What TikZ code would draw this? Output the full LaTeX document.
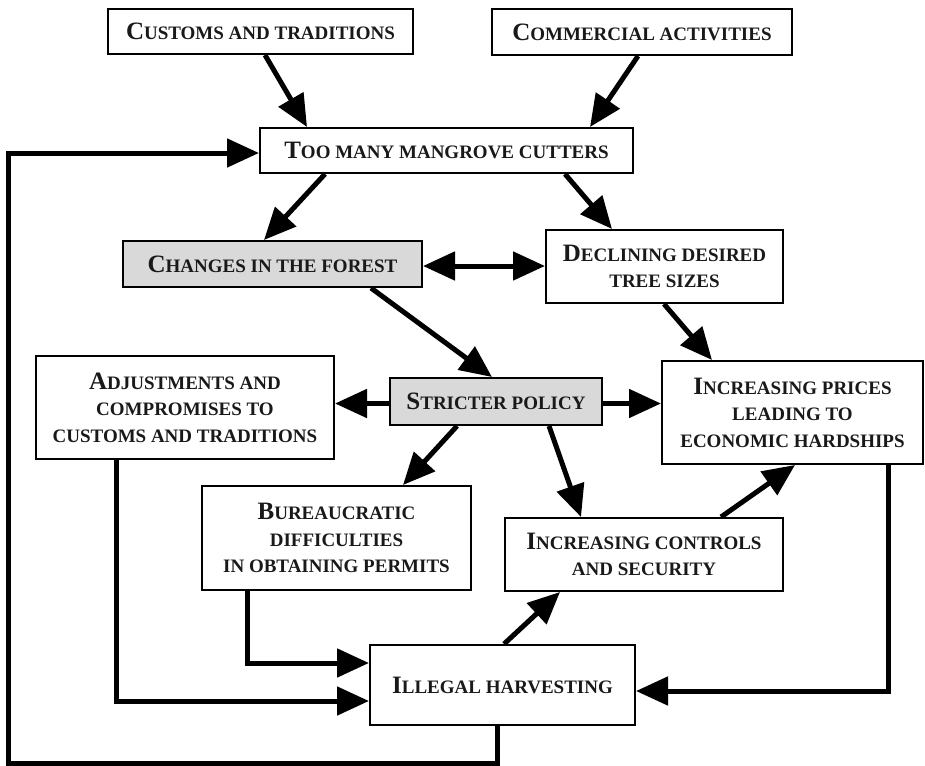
\documentclass[tikz,border=0pt]{standalone}
\usepackage{fontspec}
\setmainfont{Liberation Serif}
\usetikzlibrary{arrows.meta}
\newcommand\bigc[1]{{\fontsize{25}{26}\selectfont #1}}
\begin{document}
\begin{tikzpicture}[x=1pt,y=-1pt,
  box/.style={draw, line width=2pt, fill=white, inner sep=0pt, align=center,
    font=\fontsize{19}{26.5}\selectfont\bfseries, text=black!90},
  graybox/.style={box, fill=black!15},
  conn/.style={line width=5pt, -{Triangle[length=32pt,width=28pt]}},
  dconn/.style={line width=5pt, {Triangle[length=32pt,width=28pt]}-{Triangle[length=32pt,width=28pt]}}]
\useasboundingbox (0,0) rectangle (925,765);
\node[box, minimum width=305pt, minimum height=45pt] (cust) at (260.5,31.5) {\bigc{C}USTOMS AND TRADITIONS};
\node[box, minimum width=300pt, minimum height=46pt] (comm) at (642,32) {\bigc{C}OMMERCIAL ACTIVITIES};
\node[box, minimum width=373pt, minimum height=45pt] (toomany) at (446.5,150.5) {\bigc{T}OO MANY MANGROVE CUTTERS};
\node[graybox, minimum width=299pt, minimum height=46pt] (changes) at (272.5,264) {\bigc{C}HANGES IN THE FOREST};
\node[box, minimum width=237pt, minimum height=73pt] (declining) at (664.5,266.5) {\bigc{D}ECLINING DESIRED\\TREE SIZES};
\node[box, minimum width=298pt, minimum height=103pt] (adjust) at (185,407.5) {\bigc{A}DJUSTMENTS AND\\COMPROMISES TO\\CUSTOMS AND TRADITIONS};
\node[graybox, minimum width=212pt, minimum height=47pt] (stricter) at (496,401.5) {\bigc{S}TRICTER POLICY};
\node[box, minimum width=261pt, minimum height=103pt] (prices) at (792.5,412.5) {\bigc{I}NCREASING PRICES\\LEADING TO\\ECONOMIC HARDSHIPS};
\node[box, minimum width=269pt, minimum height=104pt] (bureau) at (336.5,538) {\bigc{B}UREAUCRATIC\\DIFFICULTIES\\IN OBTAINING PERMITS};
\node[box, minimum width=278pt, minimum height=73pt] (controls) at (644,554.5) {\bigc{I}NCREASING CONTROLS\\AND SECURITY};
\node[box, minimum width=265pt, minimum height=80pt] (illegal) at (502.5,685) {\bigc{I}LLEGAL HARVESTING};
\coordinate (loopcorner) at (8,763);

\draw[conn] ([xshift=4.5pt]cust.south) -- ([xshift=-139.5pt]toomany.north);
\draw[conn] ([xshift=-4pt]comm.south) -- ([xshift=143.5pt]toomany.north);
\draw[conn] ([xshift=-121.5pt]toomany.south) -- ([xshift=-8.5pt]changes.north);
\draw[conn] ([xshift=118.5pt]toomany.south) -- ([xshift=-52.5pt]declining.north);
\draw[dconn] ([yshift=-2pt]changes.east) -- ([yshift=-2pt]changes.east -| declining.west);
\draw[conn] ([xshift=98.5pt]changes.south) -- ([xshift=-4pt]stricter.north);
\draw[conn] ([xshift=-0.5pt]declining.south) -- ([xshift=-80.5pt]prices.north);
\draw[conn] ([yshift=-2pt]stricter.west) -- ([yshift=-2pt]stricter.west -| adjust.east);
\draw[conn] ([yshift=-2pt]stricter.east) -- ([yshift=-2pt]stricter.east -| prices.west);
\draw[conn] ([xshift=-39pt]stricter.south) -- ([xshift=66.5pt]bureau.north);
\draw[conn] ([xshift=53pt]stricter.south) -- ([xshift=-63pt]controls.north);
\draw[conn] ([xshift=77pt]controls.north) -- ([xshift=2.5pt]prices.south);
\draw[conn] ([xshift=1.5pt]illegal.north) -- ([xshift=-84pt]controls.south);
\draw[conn] ([xshift=-89.5pt]bureau.south) |- ([yshift=22pt]illegal.west);
\draw[conn] ([xshift=-69pt]adjust.south) |- ([yshift=-16pt]illegal.west);
\draw[conn] ([xshift=95.5pt]prices.south) |- ([yshift=-6pt]illegal.east);
\draw[conn] ([xshift=-5.5pt]illegal.south) |- (loopcorner) |- ([yshift=-2.5pt]toomany.west);
\end{tikzpicture}
\end{document}
